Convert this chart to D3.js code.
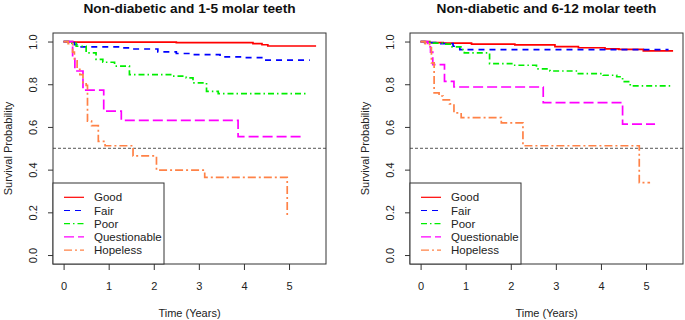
<!DOCTYPE html>
<html>
<head>
<meta charset="utf-8">
<script src="https://cdn.jsdelivr.net/npm/d3@7"></script>
<style>
  body { margin: 0; background: #fff; }
  text { font-family: "Liberation Sans", Arial, sans-serif; }
</style>
</head>
<body>
<div id="chart"></div>
<script>
// Kaplan-Meier curves as [time, survival] steps
const groups = ["Good", "Fair", "Poor", "Questionable", "Hopeless"];
const colors = ["#ff0000", "#0000ff", "#00ee00", "#ff00ff", "#ff8247"];
const dashes = [null, "6,5", "6,3,1.5,3", "10,4", "8,3,2,3"];
const xTicks = [0, 1, 2, 3, 4, 5];
const yTicks = [0, 0.2, 0.4, 0.6, 0.8, 1.0];
const titles = ["Non-diabetic and 1-5 molar teeth", "Non-diabetic and 6-12 molar teeth"];

// panel 1: 1-5 molar teeth
const p1Good = [[0,1],[0.2,0.997],[2.5,0.995],[4.2,0.99],[4.4,0.985],[4.53,0.979],[5.6,0.979]];
const p1Fair = [[0,1],[0.24,0.986],[0.39,0.975],[1.24,0.97],[1.46,0.965],[2.09,0.952],[2.5,0.944],[2.8,0.939],[3.47,0.928],[3.98,0.925],[4.46,0.913],[5.46,0.913]];
const p1Poor = [[0,1],[0.1,0.993],[0.28,0.978],[0.5,0.947],[0.72,0.916],[0.87,0.903],[1.13,0.885],[1.46,0.845],[2.4,0.838],[2.72,0.83],[2.87,0.806],[3.17,0.767],[3.43,0.756],[5.42,0.756]];
const p1Quest = [[0,1],[0.2,0.92],[0.25,0.862],[0.43,0.772],[0.89,0.674],[1.28,0.631],[3.87,0.555],[5.31,0.555]];
const p1Hope = [[0,1],[0.1,0.99],[0.2,0.95],[0.24,0.91],[0.3,0.87],[0.36,0.845],[0.43,0.806],[0.5,0.795],[0.53,0.627],[0.62,0.606],[0.77,0.532],[0.92,0.512],[1.54,0.464],[2.06,0.398],[3.13,0.364],[4.96,0.18]];

// panel 2: 6-12 molar teeth
const p2Good = [[0,1],[0.2,0.995],[0.5,0.993],[1.13,0.988],[2.09,0.984],[2.98,0.976],[3.5,0.971],[4.09,0.966],[4.4,0.963],[4.94,0.956],[5.6,0.956]];
const p2Fair = [[0,1],[0.09,0.995],[0.45,0.99],[0.72,0.978],[0.87,0.962],[5.5,0.962]];
const p2Poor = [[0,1],[0.2,0.993],[0.5,0.988],[0.68,0.975],[0.94,0.962],[0.97,0.947],[1.53,0.897],[2.05,0.889],[2.57,0.872],[2.87,0.862],[3.5,0.85],[4.05,0.842],[4.35,0.835],[4.48,0.812],[4.65,0.792],[5.6,0.792]];
const p2Quest = [[0,1],[0.16,0.975],[0.22,0.95],[0.27,0.892],[0.53,0.813],[0.74,0.787],[2.72,0.714],[4.48,0.613],[5.2,0.613]];
const p2Hope = [[0,1],[0.1,0.99],[0.2,0.97],[0.24,0.9],[0.3,0.76],[0.41,0.745],[0.5,0.727],[0.64,0.708],[0.74,0.666],[0.9,0.644],[1.79,0.619],[2.27,0.512],[4.85,0.339],[5.09,0.339]];

const panels = [
    [p1Good, p1Fair, p1Poor, p1Quest, p1Hope],
    [p2Good, p2Fair, p2Poor, p2Quest, p2Hope]
];

const W = 685, H = 320;
const boxW = 273, boxTop = 33, boxBottom = 264;
const panelLeft = [53, 410];

const svg = d3.select("#chart").append("svg")
    .attr("width", W)
    .attr("height", H);

panels.forEach((curves, i) => {
    const x0 = panelLeft[i];
    const x = d3.scaleLinear().domain([-0.235, 5.82]).range([x0, x0 + boxW]);
    const y = d3.scaleLinear().domain([-0.042, 1.04]).range([boxBottom, boxTop]);
    const g = svg.append("g");

    // title
    g.append("text")
        .attr("x", x0 + boxW / 2)
        .attr("y", 13)
        .attr("text-anchor", "middle")
        .attr("font-size", "13.7px")
        .attr("font-weight", "bold")
        .attr("fill", "#111")
        .text(titles[i]);

    // axes (R style: ticks outside the box)
    const xAxis = g.append("g")
        .attr("transform", `translate(0,${boxBottom})`)
        .call(d3.axisBottom(x).tickValues(xTicks).tickSize(6).tickPadding(12).tickFormat(d3.format("d")));
    const yAxis = g.append("g")
        .attr("transform", `translate(${x0},0)`)
        .call(d3.axisLeft(y).tickValues(yTicks).tickSize(5).tickFormat(d3.format(".1f")));
    [xAxis, yAxis].forEach(a => {
        a.select(".domain").remove();
        a.selectAll("line").attr("stroke", "#333");
        a.selectAll("text").attr("font-size", "11px").attr("fill", "#222")
            .style("font-family", "'Liberation Sans', Arial, sans-serif");
    });
    yAxis.selectAll(".tick text")
        .attr("x", null).attr("dy", null)
        .attr("text-anchor", "middle")
        .attr("transform", "translate(-20,0) rotate(-90)")
        .attr("y", 0)
        .attr("dy", "0.35em");

    // axis labels
    g.append("text")
        .attr("x", x0 + boxW / 2)
        .attr("y", 317)
        .attr("text-anchor", "middle")
        .attr("font-size", "11px")
        .attr("fill", "#222")
        .text("Time (Years)");
    g.append("text")
        .attr("transform", `translate(${x0 - 45},${(boxTop + boxBottom) / 2}) rotate(-90)`)
        .attr("text-anchor", "middle")
        .attr("dy", "0.35em")
        .attr("font-size", "11px")
        .attr("fill", "#222")
        .text("Survival Probability");

    // median reference line
    g.append("line")
        .attr("x1", x0).attr("x2", x0 + boxW)
        .attr("y1", y(0.5)).attr("y2", y(0.5))
        .attr("stroke", "#555")
        .attr("stroke-width", 1)
        .attr("stroke-dasharray", "3,2");

    // survival curves
    const line = d3.line()
        .x(d => x(d[0]))
        .y(d => y(d[1]))
        .curve(d3.curveStepAfter);

    curves.forEach((c, k) => {
        g.append("path")
            .datum(c)
            .attr("d", line)
            .attr("fill", "none")
            .attr("stroke", colors[k])
            .attr("stroke-width", 1.7)
            .attr("stroke-dasharray", dashes[k]);
    });

    // plot box
    g.append("rect")
        .attr("x", x0).attr("y", boxTop)
        .attr("width", boxW).attr("height", boxBottom - boxTop)
        .attr("fill", "none")
        .attr("stroke", "#333");

    // legend
    const leg = g.append("g");
    leg.append("rect")
        .attr("x", x0).attr("y", 183)
        .attr("width", 111).attr("height", boxBottom - 183)
        .attr("fill", "#fff")
        .attr("stroke", "#333");
    groups.forEach((name, k) => {
        const ly = 197.3 + k * 13.2;
        leg.append("line")
            .attr("x1", x0 + 11).attr("x2", x0 + 31)
            .attr("y1", ly).attr("y2", ly)
            .attr("stroke", colors[k])
            .attr("stroke-width", 1.2)
            .attr("stroke-dasharray", dashes[k]);
        leg.append("text")
            .attr("x", x0 + 41)
            .attr("y", ly)
            .attr("dy", "0.35em")
            .attr("font-size", "11.5px")
            .attr("fill", "#222")
            .text(name);
    });
});
</script>
</body>
</html>
